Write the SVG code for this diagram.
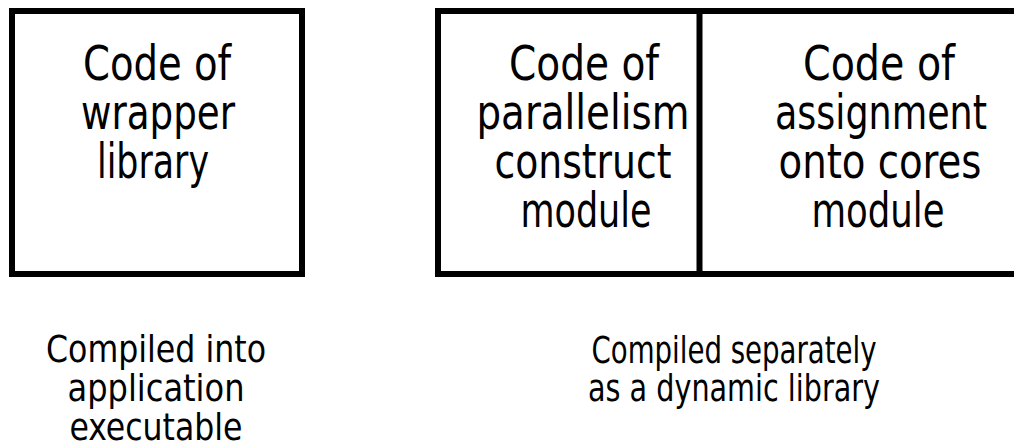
<svg xmlns="http://www.w3.org/2000/svg" width="1014" height="445" viewBox="0 0 1014 445">
<style>
.box{fill:#fff;stroke:#000;stroke-width:6}
.t{font-family:"DejaVu Sans Condensed","DejaVu Sans",sans-serif;fill:#000;text-anchor:middle}
.big{font-size:48px}
.small{font-size:38px}
</style>
<rect width="1014" height="445" fill="#fff"/>
<g id="wrapper-library">
<rect class="box" x="12" y="11" width="290" height="263"/>
<text class="t big" x="157" y="80" textLength="148" lengthAdjust="spacingAndGlyphs">Code of</text>
<text class="t big" x="158" y="129" textLength="154" lengthAdjust="spacingAndGlyphs">wrapper</text>
<text class="t big" x="153" y="178" textLength="112" lengthAdjust="spacingAndGlyphs">library</text>
</g>
<g id="dynamic-library">
<rect class="box" x="438" y="11" width="620" height="263"/>
</g>
<g id="connectors">
<line x1="699.5" y1="11" x2="699.5" y2="274" stroke="#000" stroke-width="6"/>
</g>
<g id="parallelism-module">
<text class="t big" x="584" y="80" textLength="150" lengthAdjust="spacingAndGlyphs">Code of</text>
<text class="t big" x="583" y="129" textLength="213" lengthAdjust="spacingAndGlyphs">parallelism</text>
<text class="t big" x="583" y="178" textLength="177" lengthAdjust="spacingAndGlyphs">construct</text>
<text class="t big" x="586" y="227" textLength="131" lengthAdjust="spacingAndGlyphs">module</text>
</g>
<g id="assignment-module">
<text class="t big" x="879" y="80" textLength="152" lengthAdjust="spacingAndGlyphs">Code of</text>
<text class="t big" x="881" y="129" textLength="212" lengthAdjust="spacingAndGlyphs">assignment</text>
<text class="t big" x="880" y="178" textLength="203" lengthAdjust="spacingAndGlyphs">onto cores</text>
<text class="t big" x="878" y="227" textLength="133" lengthAdjust="spacingAndGlyphs">module</text>
</g>
<g id="caption-left">
<text class="t small" x="156" y="362" textLength="220" lengthAdjust="spacingAndGlyphs">Compiled into</text>
<text class="t small" x="156" y="401" textLength="177" lengthAdjust="spacingAndGlyphs">application</text>
<text class="t small" x="156" y="440" textLength="173" lengthAdjust="spacingAndGlyphs">executable</text>
</g>
<g id="caption-right">
<text class="t small" x="734" y="363" textLength="285" lengthAdjust="spacingAndGlyphs">Compiled separately</text>
<text class="t small" x="734" y="401" textLength="292" lengthAdjust="spacingAndGlyphs">as a dynamic library</text>
</g>
</svg>
